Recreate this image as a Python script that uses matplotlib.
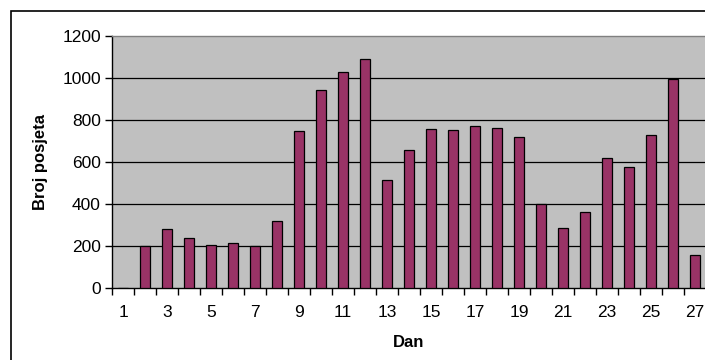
import matplotlib.pyplot as plt
from matplotlib.patches import Rectangle

plt.rcParams['font.family'] = ['Liberation Sans', 'DejaVu Sans']

dani = list(range(1, 28))
posjete = [0, 202, 280, 238, 207, 213, 202, 317, 747, 943, 1027, 1089, 514,
           658, 757, 752, 773, 763, 717, 401, 285, 364, 617, 577, 727, 997, 156]
y_ticks = [0, 200, 400, 600, 800, 1000, 1200]

fig = plt.figure(figsize=(7.05, 3.6), dpi=100)

# outer chart frame (Excel style), runs off the right/bottom edge
fig.patches.append(Rectangle((11 / 705, -0.1), 1.2, (360 - 11) / 360 + 0.1,
                             transform=fig.transFigure, fill=False,
                             edgecolor='black', lw=1.2, zorder=0))

ax = fig.add_axes([112 / 705, 72 / 360, 594 / 705, 252 / 360])
ax.set_facecolor('#C0C0C0')

# grid
for v in y_ticks[1:-1]:
    ax.axhline(v, color='black', lw=0.9, zorder=1)

# bar shadows then bars
sh = 1.3 / 22
ax.bar([d + sh for d in dani], [p - 5 if p > 0 else 0 for p in posjete],
       width=0.43, color='#808080', zorder=2, alpha=0.6)
ax.bar(dani, posjete, width=0.43, color='#993366', edgecolor='black',
       lw=0.9, zorder=3)

ax.set_xlim(0.5, 27.5)
ax.set_ylim(0, 1200)
ax.set_yticks(y_ticks)
ax.set_xticks(dani[::2])
ax.set_xticklabels([str(d) for d in dani[::2]])
ax.set_xticks([d + 0.5 for d in range(0, 28)], minor=True)

ax.tick_params(axis='x', which='major', length=0, pad=12, labelsize=12.5)
ax.tick_params(axis='x', which='minor', length=5, width=1, direction='out')
ax.tick_params(axis='y', length=5, width=1, direction='out', pad=3,
               labelsize=12.5)

for s in ['left', 'bottom']:
    ax.spines[s].set_color('black')
    ax.spines[s].set_linewidth(1)
ax.spines['top'].set_color('#808080')
ax.spines['top'].set_linewidth(1)
ax.spines['right'].set_visible(False)

ax.set_xlabel('Dan', fontsize=12, fontweight='bold', labelpad=11)
ax.set_ylabel('Broj posjeta', fontsize=12, fontweight='bold', labelpad=10)

fig.savefig('out.png', dpi=100)
